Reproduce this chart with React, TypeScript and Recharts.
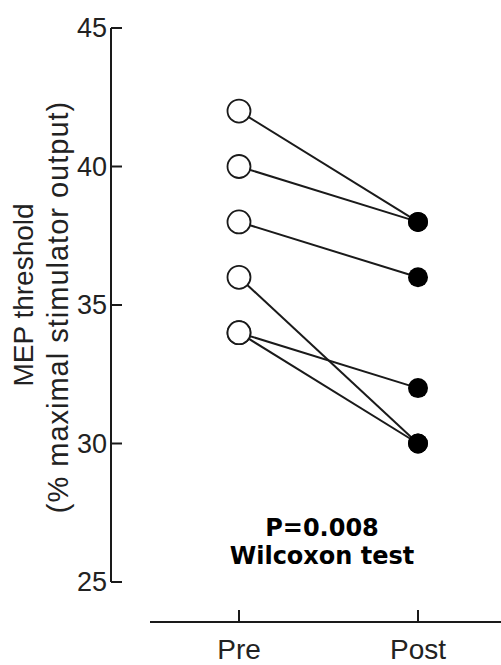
import { LineChart, Line, XAxis, YAxis, Label } from 'recharts'

const INK = '#1a1a1a'
const SANS = '"Liberation Sans", Arial, sans-serif'

const conditions = ['Pre', 'Post']
const preValues = [42, 40, 38, 36, 34, 34]
const postValues = [38, 38, 36, 30, 32, 30]
const yTicks = [25, 30, 35, 40, 45]

const subjects = preValues.map((_, i) => `s${i}`)
const data = conditions.map((cond, ci) => {
  const row: Record<string, string | number> = { cond }
  subjects.forEach((key, i) => {
    row[key] = ci === 0 ? preValues[i] : postValues[i]
  })
  return row
})

// eslint-disable-next-line @typescript-eslint/no-explicit-any
const YTick = ({ x, y, payload }: any) => (
  <g>
    <line x1={x} y1={y} x2={x + 11} y2={y} stroke={INK} strokeWidth={2} />
    <text x={x - 4} y={y} textAnchor="end" dominantBaseline="central" fontSize={27} fontFamily={SANS} fill="#222">
      {payload.value}
    </text>
  </g>
)

// eslint-disable-next-line @typescript-eslint/no-explicit-any
const XTick = ({ x, y, payload }: any) => (
  <g>
    <line x1={x} y1={y} x2={x} y2={y - 12} stroke={INK} strokeWidth={2} />
    <text x={x} y={y + 37} textAnchor="middle" fontSize={28} fontFamily={SANS} fill="#222">
      {payload.value}
    </text>
  </g>
)

// eslint-disable-next-line @typescript-eslint/no-explicit-any
const YLabel = ({ viewBox }: any) => {
  const cy = viewBox.y + (viewBox.height - 40) / 2
  return (
    <g fontFamily={SANS} fill="#222" textAnchor="middle">
      <text fontSize={28} transform={`translate(${viewBox.x + 33},${cy - 10}) rotate(-90)`}>
        MEP threshold
      </text>
      <text fontSize={29} letterSpacing={1} transform={`translate(${viewBox.x + 68},${cy + 2}) rotate(-90)`}>
        (% maximal stimulator output)
      </text>
    </g>
  )
}

// eslint-disable-next-line @typescript-eslint/no-explicit-any
const Dot = ({ cx, cy, payload, index, dataKey }: any) =>
  payload.cond === 'Pre' ? (
    <circle key={`${dataKey}-${index}`} cx={cx} cy={cy} r={11.5} fill="#fff" stroke={INK} strokeWidth={1.8} />
  ) : (
    <circle key={`${dataKey}-${index}`} cx={cx} cy={cy} r={10} fill="#000" />
  )

export default function App() {
  return (
    <div style={{ position: 'relative', width: 501, height: 665 }}>
      <style>{'body{margin:0}'}</style>
      <LineChart width={501} height={665} data={data} margin={{ top: 28, right: 0, bottom: 0, left: 0 }}>
        <XAxis
          dataKey="cond"
          type="category"
          height={43}
          padding={{ left: 128, right: 83 }}
          tickSize={0}
          tickMargin={0}
          tickLine={false}
          tick={<XTick />}
          axisLine={{ stroke: INK, strokeWidth: 2, strokeDasharray: '0 39 1000' }}
        />
        <YAxis
          type="number"
          domain={[25, 45]}
          ticks={yTicks}
          width={111}
          padding={{ top: 0, bottom: 40 }}
          tickSize={0}
          tickMargin={0}
          tickLine={false}
          tick={<YTick />}
          axisLine={{ stroke: INK, strokeWidth: 2, strokeDasharray: '554 1000' }}
        >
          <Label content={<YLabel />} />
        </YAxis>
        {subjects.map(key => (
          <Line
            key={key}
            dataKey={key}
            stroke={INK}
            strokeWidth={2}
            dot={<Dot />}
            activeDot={false}
            isAnimationActive={false}
          />
        ))}
      </LineChart>
      <div
        style={{
          position: 'absolute',
          left: 222,
          width: 200,
          top: 514,
          textAlign: 'center',
          fontFamily: '"DejaVu Sans", Verdana, sans-serif',
          fontWeight: 'bold',
          fontSize: 24,
          lineHeight: '28px',
          color: '#000',
        }}
      >
        P=0.008
        <br />
        Wilcoxon test
      </div>
    </div>
  )
}
